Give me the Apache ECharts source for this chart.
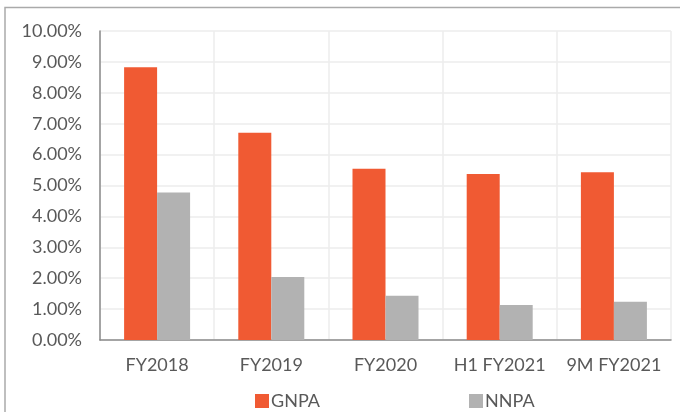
<!DOCTYPE html>
<html>
<head>
<meta charset="utf-8">
<script src="https://cdn.jsdelivr.net/npm/echarts@6/dist/echarts.min.js"></script>
<style>
html,body{margin:0;padding:0;background:#fff;}
#chart{width:680px;height:412px;}
</style>
</head>
<body>
<div id="chart"></div>
<script>
var categories = ['FY2018', 'FY2019', 'FY2020', 'H1 FY2021', '9M FY2021'];
var gnpa = [8.83, 6.71, 5.54, 5.37, 5.43];
var nnpa = [4.77, 2.04, 1.43, 1.13, 1.24];
var seriesNames = ['GNPA', 'NNPA'];

var FONT = 'Lato';
var TXT = '#595959';

var chart = echarts.init(document.getElementById('chart'));
chart.setOption({
  animation: false,
  backgroundColor: '#ffffff',
  graphic: [{
    type: 'rect',
    shape: {x: 5, y: 7.5, width: 720, height: 440},
    style: {fill: 'none', stroke: '#aaaaaa', lineWidth: 1.5},
    silent: true
  }],
  grid: {left: 100, right: 9, top: 31, bottom: 72, containLabel: false},
  legend: [{
    data: [seriesNames[0]],
    left: 250, top: 387,
    icon: 'rect', itemWidth: 14, itemHeight: 14,
    textStyle: {fontFamily: FONT, fontSize: 18, color: TXT, padding: [0, 0, 0, -3]}
  }, {
    data: [seriesNames[1]],
    left: 464, top: 387,
    icon: 'rect', itemWidth: 14, itemHeight: 14,
    textStyle: {fontFamily: FONT, fontSize: 18, color: TXT, padding: [0, 0, 0, -3]}
  }],
  xAxis: {
    type: 'category',
    data: categories,
    axisLine: {show: true, lineStyle: {color: '#8a8a8a', width: 1.5}},
    axisTick: {show: false, interval: 0},
    axisLabel: {fontFamily: FONT, fontSize: 18, color: TXT, margin: 16, interval: 0},
    splitLine: {show: true, interval: 0, lineStyle: {color: '#ececec', width: 1.5}}
  },
  yAxis: {
    type: 'value',
    min: 0, max: 10, interval: 1,
    axisLine: {show: true, lineStyle: {color: '#8a8a8a', width: 1.5}},
    axisTick: {show: false},
    axisLabel: {
      fontFamily: FONT, fontSize: 18, color: TXT, margin: 18,
      formatter: function (v) { return v.toFixed(2) + '%'; }
    },
    splitLine: {show: true, lineStyle: {color: '#ececec', width: 1.5}}
  },
  series: [{
    name: seriesNames[0],
    type: 'bar',
    data: gnpa,
    barWidth: 33,
    barGap: '0%',
    itemStyle: {color: '#F05A33'}
  }, {
    name: seriesNames[1],
    type: 'bar',
    data: nnpa,
    barWidth: 33,
    barGap: '0%',
    itemStyle: {color: '#B2B2B2'}
  }]
});
</script>
</body>
</html>
